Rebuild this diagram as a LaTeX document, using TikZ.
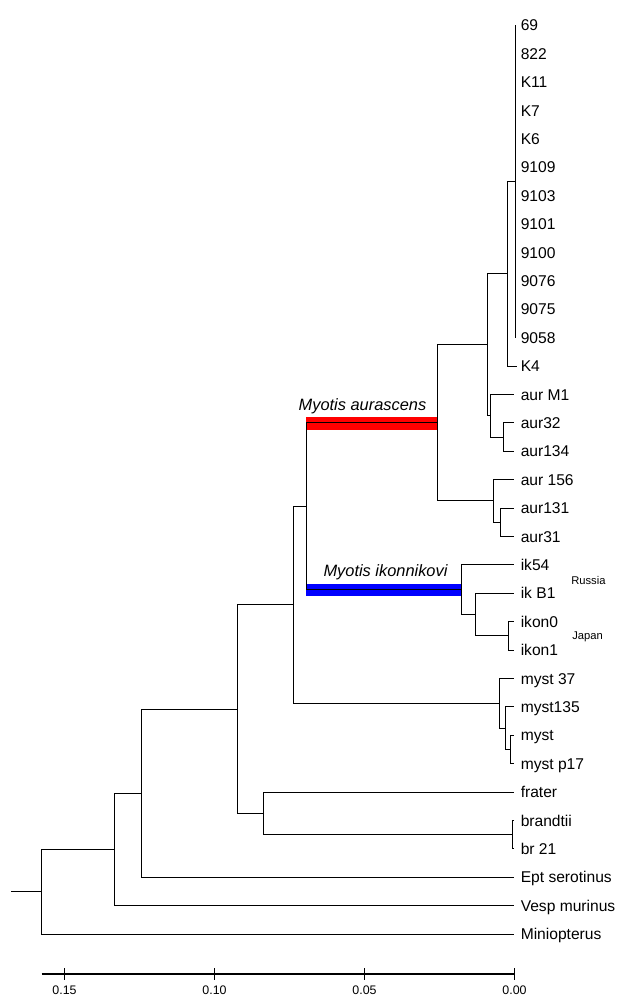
\documentclass[tikz,border=0pt]{standalone}
\usepackage{fontspec}
\setmainfont{Liberation Sans}
\begin{document}
\begin{tikzpicture}[x=0.75pt,y=-0.75pt,
  br/.style={line width=0.75pt, black},
  leaf/.style={anchor=base west, inner sep=0pt, font=\fontsize{11.7}{13}\selectfont},
  clade/.style={anchor=base, inner sep=0pt, font=\fontsize{12.3}{14}\selectfont\itshape},
  region/.style={anchor=base west, inner sep=0pt, font=\fontsize{8.4}{10}\selectfont},
  ticklab/.style={anchor=base, inner sep=0pt, font=\fontsize{9.3}{11}\selectfont}]
\useasboundingbox (0,0) rectangle (626,1000);

% leaves
\foreach \i/\lab/\tx in {0/69/515,1/822/515,2/K11/515,3/K7/515,4/K6/515,5/9109/515,
  6/9103/515,7/9101/515,8/9100/515,9/9076/515,10/9075/515,11/9058/515,12/K4/517,
  13/aur M1/514,14/aur32/514,15/aur134/514,16/aur 156/514,17/aur131/514,18/aur31/514,
  19/ik54/514,20/ik B1/514,21/ikon0/514,22/ikon1/514,23/myst 37/514,24/myst135/514,
  25/myst/514,26/myst p17/514,27/frater/514,28/brandtii/514,29/br 21/514,
  30/Ept serotinus/514,31/Vesp murinus/514,32/Miniopterus/514}{
  \coordinate (t\i) at (\tx,{25.2+28.4*\i});
  \node[leaf] (L\i) at (520.5,{25.2+28.4*\i+5.6}) {\lab};
}

% internal nodes
\coordinate (K2) at (515,181.4);
\coordinate (K) at (507,273.7);
\coordinate (L) at (503,437);
\coordinate (J) at (490,415.7);
\coordinate (H) at (487,344.7);
\coordinate (N) at (500,522.2);
\coordinate (M) at (493,500.9);
\coordinate (G) at (437,422.8);
\coordinate (Q) at (508,635.8);
\coordinate (P) at (475,614.5);
\coordinate (O) at (461,589.7);
\coordinate (F) at (306,506.2);
\coordinate (T) at (510,749.4);
\coordinate (S) at (505,728.1);
\coordinate (R) at (499.5,703.3);
\coordinate (E) at (293,604.7);
\coordinate (Bn) at (512.5,834.6);
\coordinate (D) at (263,813.3);
\coordinate (C) at (237,709);
\coordinate (B) at (141,793.1);
\coordinate (A) at (114,849.4);
\coordinate (root) at (41.6,891.7);
\coordinate (stub) at (11,891.7);

% coloured clade bars
\fill[red] (306,416.8) rectangle (437,429.8);
\fill[blue] (306,584.3) rectangle (461,596.3);

% branches
\foreach \i in {0,...,11} { \draw[br] (K2) |- (t\i); }
\foreach \p/\c in {K/K2,K/t12,H/K,H/J,J/t13,J/L,L/t14,L/t15,G/H,G/M,M/t16,M/N,
  N/t17,N/t18,F/G,F/O,O/t19,O/P,P/t20,P/Q,Q/t21,Q/t22,E/F,E/R,R/t23,R/S,S/t24,S/T,
  T/t25,T/t26,C/E,C/D,D/t27,D/Bn,Bn/t28,Bn/t29,B/C,B/t30,A/B,A/t31,root/A,root/t32}{
  \draw[br] (\p) |- (\c);
}
\draw[br] (stub) -- (root);

% clade labels
\node[clade] (aur) at (362.5,410) {Myotis aurascens};
\node[clade] (ikon) at (385.5,576.5) {Myotis ikonnikovi};
\node[region] (rus) at (571,584) {Russia};
\node[region] (jap) at (572,639.5) {Japan};

% axis
\coordinate (ax0) at (41.6,974);
\coordinate (ax1) at (514.5,974);
\draw[line width=1.1pt] (ax0) -- (ax1);
\foreach \k/\v/\x in {1/0.15/64.5,2/0.10/214.5,3/0.05/364.5,4/0.00/514.5}{
  \coordinate (tk\k) at (\x,968);
  \coordinate (tb\k) at (\x,980);
  \draw[line width=0.9pt] (tk\k) -- (tb\k);
  \node[ticklab] (lab\k) at (\x,994) {\v};
}
\end{tikzpicture}
\end{document}
